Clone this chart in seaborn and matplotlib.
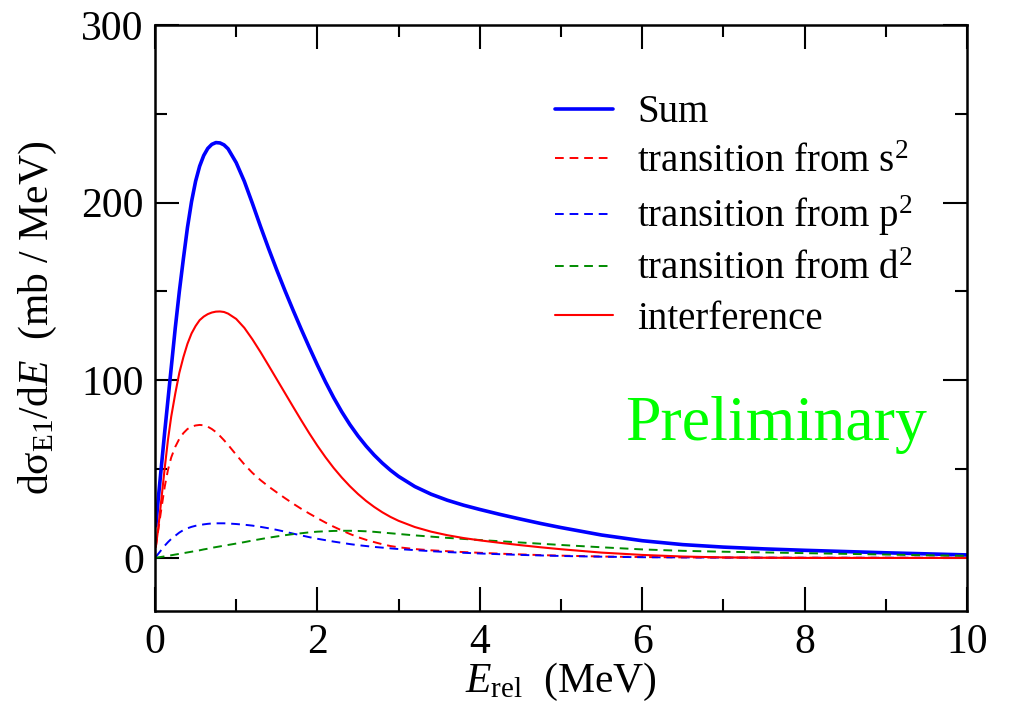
import matplotlib
matplotlib.use("Agg")
import matplotlib.pyplot as plt
import seaborn as sns
import pandas as pd
from matplotlib.ticker import MultipleLocator

# ---- data ----
energy = [0.01, 0.04, 0.08, 0.12, 0.16, 0.2, 0.25, 0.3, 0.35, 0.4,
          0.45, 0.5, 0.55, 0.6, 0.65, 0.7, 0.75, 0.8, 0.85, 0.9,
          1.0, 1.1, 1.2, 1.3, 1.4, 1.5, 1.6, 1.7, 1.8, 1.9,
          2.0, 2.1, 2.2, 2.3, 2.4, 2.5, 2.6, 2.7, 2.8, 2.9,
          3.0, 3.2, 3.4, 3.6, 3.8, 4.0, 4.25, 4.5, 4.75, 5.0,
          5.5, 6.0, 6.5, 7.0, 7.5, 8.0, 8.5, 9.0, 9.5, 10.0]
sum_total = [18, 33, 52, 71, 89, 107, 129.5, 150, 168.5, 186,
             200.5, 212, 220.5, 226.5, 230.5, 232.8, 233.8, 233.6, 232.5, 230.3,
             222.5, 212, 199.5, 186.5, 174, 162, 150.5, 139.5, 128.8, 118.5,
             108.5, 99, 90.2, 82.2, 75, 68.6, 62.9, 57.8, 53.3, 49.3,
             45.8, 40.1, 35.8, 32.4, 29.6, 27.2, 24.4, 21.8, 19.3, 17.0,
             12.8, 9.6, 7.4, 6.0, 5.0, 4.2, 3.5, 2.8, 2.2, 1.6]
trans_s2 = [6, 15.5, 28, 40, 49.5, 56.5, 62.5, 67, 70.2, 72.5,
            73.8, 74.5, 74.8, 74.6, 73.8, 72.5, 70.8, 68.6, 66.2, 63.6,
            58.0, 52.6, 47.8, 43.7, 40.1, 36.8, 33.6, 30.5, 27.6, 24.9,
            22.3, 19.8, 17.5, 15.4, 13.4, 11.6, 10.1, 8.8, 7.6, 6.6,
            5.9, 4.9, 4.2, 3.7, 3.2, 2.8, 2.3, 1.9, 1.5, 1.2,
            0.7, 0.4, 0.2, 0.1, 0.05, 0, 0, 0, 0, 0]
trans_p2 = [0.5, 2.2, 4.5, 6.8, 8.8, 10.6, 12.4, 14.2, 15.6, 16.6,
            17.4, 18.0, 18.4, 18.8, 19.1, 19.3, 19.4, 19.4, 19.4, 19.3,
            19.0, 18.6, 18.1, 17.4, 16.6, 15.7, 14.7, 13.6, 12.6, 11.6,
            10.7, 9.9, 9.1, 8.4, 7.7, 7.1, 6.6, 6.1, 5.7, 5.3,
            4.9, 4.3, 3.7, 3.2, 2.8, 2.4, 2.0, 1.6, 1.3, 1.0,
            0.6, 0.3, 0.2, 0.1, 0.05, 0, 0, 0, 0, 0]
trans_d2 = [0, 0.2, 0.5, 0.8, 1.1, 1.4, 1.8, 2.2, 2.6, 3.0,
            3.4, 3.8, 4.2, 4.7, 5.1, 5.6, 6.0, 6.4, 6.8, 7.2,
            8.0, 8.8, 9.7, 10.5, 11.3, 12.0, 12.7, 13.3, 13.8, 14.3,
            14.7, 14.9, 15.1, 15.2, 15.2, 15.1, 14.9, 14.6, 14.2, 13.8,
            13.4, 12.6, 11.9, 11.2, 10.6, 10.0, 9.3, 8.6, 7.9, 7.2,
            5.9, 4.7, 3.9, 3.4, 3.0, 2.6, 2.2, 1.8, 1.4, 1.1]
interference = [6, 16.5, 33.5, 50.5, 66.5, 79.5, 92.5, 104.2, 113, 120.5,
                126.3, 130.5, 133.8, 135.8, 137.2, 138.1, 138.6, 138.7, 138.4, 137.5,
                134.5, 129.5, 123, 115.8, 108.2, 100.5, 92.8, 85.1, 77.5, 70.1,
                63.1, 56.6, 50.6, 45.2, 40.3, 35.9, 32.0, 28.6, 25.6, 23.0,
                20.8, 17.3, 14.7, 12.7, 11.1, 9.8, 8.4, 7.1, 5.9, 4.8,
                2.9, 1.6, 0.7, 0.2, 0, -0.1, -0.1, -0.1, -0.1, -0.1]

labels = ["Sum", "transition from s$^2$", "transition from p$^2$",
          "transition from d$^2$", "interference"]
x_ticks = [0, 2, 4, 6, 8, 10]
y_ticks = [0, 100, 200, 300]

# ---- style ----
sns.set_style("ticks")
plt.rcParams["font.family"] = ["Liberation Serif", "DejaVu Serif"]
plt.rcParams["mathtext.fontset"] = "custom"
plt.rcParams["mathtext.rm"] = "Liberation Serif"
plt.rcParams["mathtext.it"] = "Liberation Serif:italic"
plt.rcParams["mathtext.bf"] = "Liberation Serif:bold"
for key in ["text.color", "axes.labelcolor", "xtick.color", "ytick.color",
            "axes.edgecolor"]:
    plt.rcParams[key] = "black"

fig = plt.figure(figsize=(10.09, 7.11), dpi=100)
ax = fig.add_axes([0.1536, 0.1406, 0.8048, 0.8242])

df = pd.DataFrame({"E": energy, "sum": sum_total, "s2": trans_s2,
                   "p2": trans_p2, "d2": trans_d2, "int": interference})

dash = (0, (4.5, 3.0))
specs = [("sum", "#0000ff", 2.6, "-"),
         ("s2", "#ff0000", 1.4, dash),
         ("p2", "#0000ff", 1.4, dash),
         ("d2", "#008b00", 1.4, dash),
         ("int", "#ff0000", 1.5, "-")]
for (col, color, lw, ls), lab in zip(specs, labels):
    sns.lineplot(data=df, x="E", y=col, ax=ax, color=color, linewidth=lw,
                 linestyle=ls, label=lab)

ax.set_xlim(0, 10)
ax.set_ylim(-30, 300)
ax.set_xticks(x_ticks)
ax.set_yticks(y_ticks)
ax.xaxis.set_minor_locator(MultipleLocator(1))
ax.yaxis.set_minor_locator(MultipleLocator(50))
ax.tick_params(which="both", direction="in", top=True, right=True,
               width=1.5, colors="black", labelsize=30)
ax.tick_params(which="major", length=17)
ax.tick_params(which="minor", length=8.5)
ax.tick_params(axis="x", pad=9)
ax.tick_params(axis="y", pad=8)
for sp in ax.spines.values():
    sp.set_linewidth(1.8)
    sp.set_color("black")

ax.set_xlabel(r"$E_{\mathrm{rel}}$  (MeV)", fontsize=30)
ax.set_ylabel(r"dσ$_{\mathrm{E1}}$/d$E$  (mb / MeV)", fontsize=30)
ax.xaxis.set_label_coords(0.5, -0.085)
ax.yaxis.set_label_coords(-0.118, 0.5)

ax.legend(loc="upper left", bbox_to_anchor=(0.4926, 0.882), frameon=False,
          fontsize=28, handlelength=1.5, handletextpad=0.62,
          labelspacing=0.33, borderpad=0, borderaxespad=0)

ax.text(0.579, 0.292, "Preliminary", transform=ax.transAxes, color="#00ff00",
        fontsize=46, va="baseline", ha="left")

fig.savefig("out.png", dpi=100)
